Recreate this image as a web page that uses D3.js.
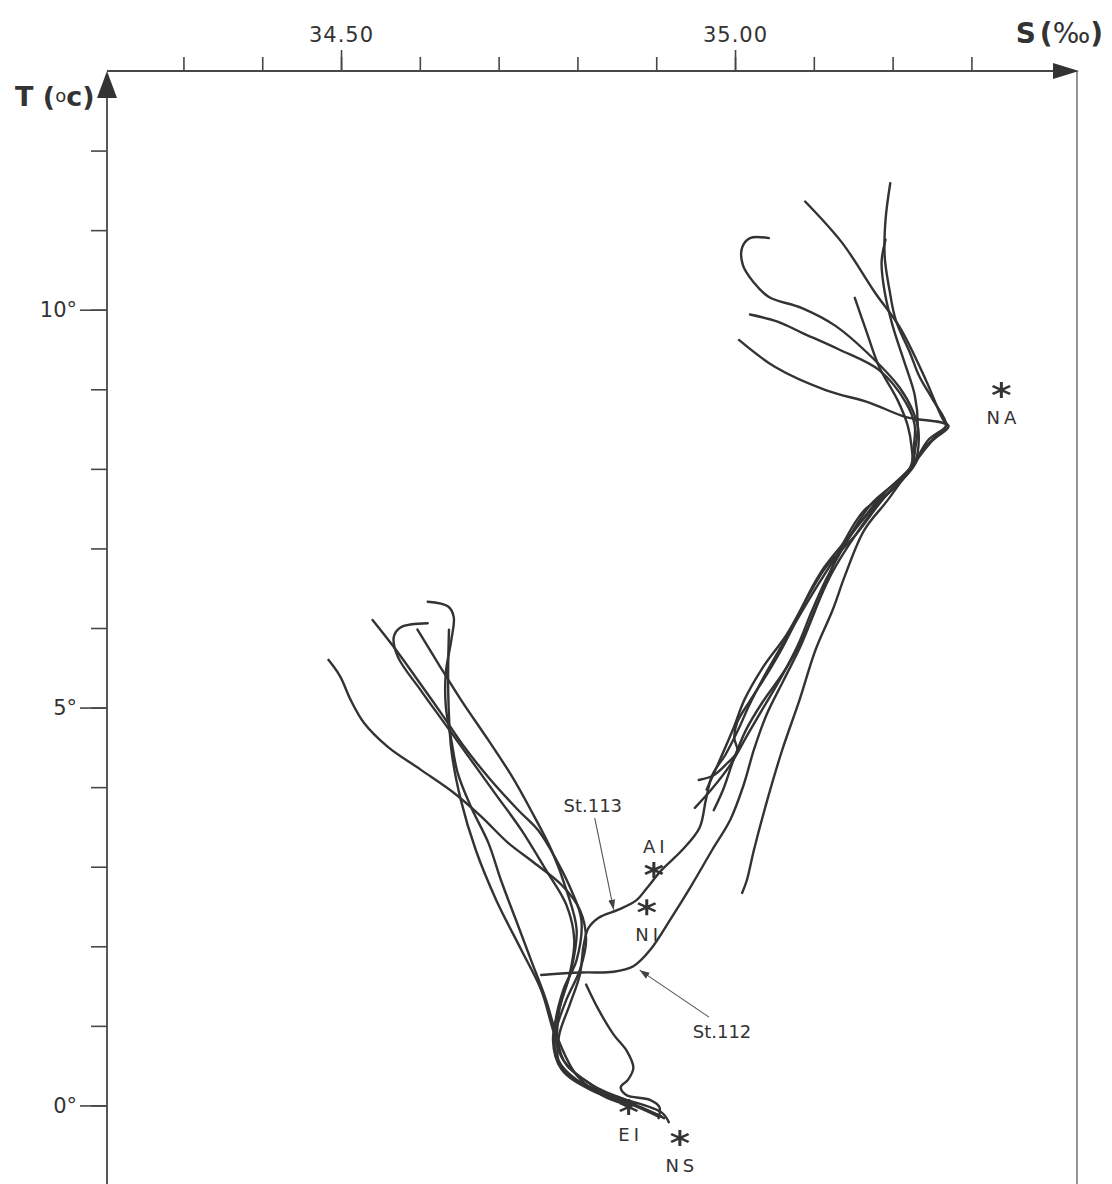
<!DOCTYPE html>
<html>
<head>
<meta charset="utf-8">
<script src="https://cdn.jsdelivr.net/npm/d3@7"></script>
<style>
  html, body { margin: 0; padding: 0; background: #ffffff; }
  svg { display: block; }
</style>
</head>
<body>
<svg id="chart" width="1112" height="1184"></svg>
<script>
// ---- Axis ticks -------------------------------------------------------
const salinityTicks = [34.3, 34.4, 34.5, 34.6, 34.7, 34.8, 34.9, 35.0, 35.1, 35.2, 35.3];
const salinityLabelled = [34.5, 35.0];
const salinityLabelText = ["34.50", "35.00"];
const temperatureTicks = [0, 1, 2, 3, 4, 5, 6, 7, 8, 9, 10, 11, 12];
const temperatureLabelled = [0, 5, 10];
const temperatureLabelText = ["0°", "5°", "10°"];

// ---- T-S profiles: [salinity ‰, temperature °C], surface first --------
const atlantic1 = [[35.043,10.90],[35.019,10.90],[35.009,10.78],[35.010,10.56],[35.024,10.34],[35.043,10.16],[35.085,10.02],[35.127,9.80],[35.175,9.39],[35.209,9.02],[35.226,8.72],[35.233,8.46],[35.227,8.05],[35.187,7.61],[35.153,7.17],[35.115,6.76],[35.090,6.35],[35.065,5.91],[35.035,5.50],[35.012,5.10],[34.998,4.74],[34.978,4.28],[34.964,3.97]];
const atlantic2 = [[35.089,11.36],[35.136,10.84],[35.178,10.21],[35.209,9.78],[35.242,9.12],[35.264,8.62],[35.271,8.53],[35.251,8.36],[35.226,8.05],[35.194,7.61],[35.164,7.23],[35.140,6.67],[35.124,6.23],[35.102,5.72],[35.082,5.10],[35.060,4.47],[35.041,3.84],[35.024,3.21],[35.015,2.83],[35.009,2.67]];
const atlantic3 = [[35.197,11.59],[35.191,11.13],[35.190,10.66],[35.196,10.25],[35.204,9.87],[35.222,9.46],[35.234,9.16],[35.251,8.87],[35.268,8.55],[35.257,8.43],[35.238,8.24],[35.226,8.02],[35.181,7.55],[35.149,7.11],[35.124,6.71],[35.104,6.29],[35.085,5.85],[35.062,5.45],[35.035,5.07],[35.014,4.72],[34.998,4.34],[34.985,3.97],[34.973,3.71]];
const atlantic4 = [[35.191,10.88],[35.186,10.60],[35.190,10.22],[35.200,9.80],[35.215,9.34],[35.228,8.93],[35.232,8.55],[35.229,8.27],[35.223,8.01],[35.175,7.51],[35.143,7.13],[35.113,6.76],[35.093,6.42],[35.078,6.10],[35.060,5.75],[35.040,5.41],[35.020,5.10],[35.003,4.82],[34.999,4.62],[35.003,4.45],[34.990,4.30],[34.973,4.15],[34.954,4.09]];
const atlantic5 = [[35.019,9.94],[35.054,9.85],[35.085,9.71],[35.132,9.50],[35.183,9.24],[35.217,8.83],[35.228,8.55],[35.227,8.30],[35.222,8.01],[35.172,7.55],[35.139,7.04],[35.115,6.60],[35.097,6.20],[35.080,5.79],[35.058,5.37],[35.036,5.00],[35.016,4.66],[34.994,4.28],[34.970,3.97],[34.949,3.74]];
const station113 = [[35.005,9.62],[35.051,9.28],[35.115,8.99],[35.171,8.83],[35.217,8.65],[35.268,8.55],[35.245,8.36],[35.224,8.03],[35.187,7.67],[35.157,7.30],[35.130,6.92],[35.105,6.54],[35.082,6.16],[35.060,5.79],[35.038,5.41],[35.018,5.03],[35.004,4.72],[34.988,4.41],[34.971,4.15],[34.963,3.84],[34.955,3.49],[34.933,3.21],[34.907,2.96],[34.888,2.73],[34.875,2.58],[34.852,2.46],[34.827,2.36],[34.814,2.23],[34.808,2.02],[34.803,1.64],[34.790,1.26],[34.777,0.89],[34.776,0.57],[34.799,0.32],[34.837,0.13],[34.882,-0.03],[34.910,-0.16]];
const station112 = [[35.152,10.15],[35.166,9.75],[35.183,9.28],[35.206,8.87],[35.219,8.55],[35.224,8.28],[35.224,8.03],[35.200,7.74],[35.164,7.48],[35.136,7.04],[35.118,6.63],[35.102,6.23],[35.084,5.79],[35.062,5.35],[35.040,4.91],[35.024,4.47],[35.011,4.03],[34.994,3.59],[34.971,3.21],[34.945,2.77],[34.920,2.37],[34.892,1.95],[34.871,1.75],[34.846,1.68],[34.805,1.67],[34.754,1.64]];
const polar1 = [[34.484,5.60],[34.499,5.39],[34.512,5.10],[34.529,4.81],[34.559,4.51],[34.601,4.22],[34.643,3.93],[34.678,3.63],[34.712,3.30],[34.745,3.05],[34.780,2.77],[34.803,2.46],[34.811,2.08],[34.803,1.70],[34.786,1.33],[34.773,0.95],[34.771,0.70],[34.780,0.47],[34.814,0.23],[34.856,0.09],[34.907,-0.09],[34.916,-0.21]];
const polar2 = [[34.540,6.10],[34.567,5.76],[34.597,5.35],[34.627,4.93],[34.656,4.51],[34.690,4.09],[34.725,3.71],[34.750,3.46],[34.773,3.09],[34.792,2.71],[34.805,2.33],[34.799,1.83],[34.782,1.45],[34.771,0.95],[34.775,0.57],[34.799,0.32],[34.843,0.13],[34.882,-0.03],[34.907,-0.14]];
const polar3 = [[34.610,6.06],[34.576,6.01],[34.567,5.89],[34.572,5.64],[34.601,5.22],[34.633,4.78],[34.665,4.34],[34.697,3.90],[34.729,3.46],[34.760,2.96],[34.786,2.52],[34.796,2.08],[34.790,1.64],[34.777,1.20],[34.775,0.82],[34.786,0.51],[34.818,0.26],[34.846,0.07]];
const polar4 = [[34.597,5.98],[34.623,5.56],[34.652,5.10],[34.687,4.59],[34.716,4.15],[34.741,3.71],[34.767,3.21],[34.786,2.71],[34.799,2.21],[34.792,1.70],[34.780,1.33],[34.769,0.82],[34.780,0.45],[34.818,0.19],[34.869,0.01],[34.903,-0.14]];
const polar5 = [[34.610,6.33],[34.636,6.27],[34.643,6.14],[34.640,5.85],[34.633,5.44],[34.633,5.01],[34.640,4.59],[34.648,4.18],[34.665,3.75],[34.687,3.30],[34.703,2.83],[34.722,2.33],[34.741,1.83],[34.760,1.33],[34.776,0.82],[34.799,0.38],[34.831,0.13],[34.862,0.01]];
const polar6 = [[34.637,5.98],[34.636,5.22],[34.640,4.47],[34.652,3.84],[34.671,3.21],[34.697,2.58],[34.729,1.95],[34.754,1.45],[34.769,0.95],[34.782,0.57],[34.818,0.26],[34.862,0.07]];
const polar7 = [[34.811,1.52],[34.827,1.20],[34.846,0.89],[34.863,0.68],[34.871,0.47],[34.864,0.32],[34.855,0.23],[34.862,0.13],[34.892,0.07],[34.904,-0.02],[34.903,-0.16]];

const profiles = [atlantic1, atlantic2, atlantic3, atlantic4, atlantic5, station113, station112,
                  polar1, polar2, polar3, polar4, polar5, polar6, polar7];

// ---- Water-mass type points ------------------------------------------
const waterMassNames = ["NA", "AI", "NI", "EI", "NS"];
const waterMassS = [35.338, 34.897, 34.888, 34.865, 34.930];
const waterMassT = [8.99, 2.96, 2.49, -0.02, -0.41];

// ---- Station call-outs: label, arrow tail and arrow tip ----------------
const stationNames = ["St.113", "St.112"];
const stationTail = [[34.822, 3.61], [34.967, 1.11]];
const stationTip = [[34.846, 2.46], [34.879, 1.70]];

// ---- Layout -----------------------------------------------------------
const svg = d3.select("#chart");
const ink = "#333333";
const axisInk = "#474747";
const textInk = "#333333";
const font = "'DejaVu Sans', 'Liberation Sans', sans-serif";

const x = d3.scaleLinear().domain([34.203, 35.434]).range([107, 1077]);
const y = d3.scaleLinear().domain([-1, 13]).range([1185, 71]);

// Salinity axis along the top: minor and labelled ticks point upward
const gx = svg.append("g").attr("transform", `translate(0,${y(13)})`);
gx.call(d3.axisTop(x).tickValues(salinityTicks).tickSize(14).tickFormat(""));
const gxl = svg.append("g").attr("transform", `translate(0,${y(13)})`);
gxl.call(d3.axisTop(x).tickValues(salinityLabelled).tickSize(21).tickPadding(8)
  .tickFormat((d, i) => salinityLabelText[i]));
[gx, gxl].forEach(g => {
  g.select(".domain").remove();
  g.selectAll(".tick line").attr("stroke", axisInk).attr("stroke-width", 1.6);
});
gxl.selectAll(".tick text")
  .attr("font-family", font).attr("font-size", 21).attr("letter-spacing", 1)
  .attr("fill", textInk);

// Temperature axis on the left: ticks point outward
const gy = svg.append("g").attr("transform", `translate(${x(34.203)},0)`);
gy.call(d3.axisLeft(y).tickValues(temperatureTicks).tickSize(16).tickFormat(""));
const gyl = svg.append("g").attr("transform", `translate(${x(34.203)},0)`);
gyl.call(d3.axisLeft(y).tickValues(temperatureLabelled).tickSize(27).tickPadding(3)
  .tickFormat(d => temperatureLabelText[temperatureLabelled.indexOf(d)]));
[gy, gyl].forEach(g => {
  g.select(".domain").remove();
  g.selectAll(".tick line").attr("stroke", axisInk).attr("stroke-width", 1.6);
});
gyl.selectAll(".tick text")
  .attr("font-family", font).attr("font-size", 21).attr("fill", textInk);

// Frame lines with arrowheads
const x0 = x(34.203), x1 = x(35.434), yTop = y(13), yBot = y(-1);
svg.append("line").attr("x1", x0).attr("y1", yTop).attr("x2", x1 - 20).attr("y2", yTop)
  .attr("stroke", axisInk).attr("stroke-width", 1.8);
svg.append("line").attr("x1", x0).attr("y1", yTop + 20).attr("x2", x0).attr("y2", yBot)
  .attr("stroke", axisInk).attr("stroke-width", 1.8);
svg.append("line").attr("x1", x1).attr("y1", yTop).attr("x2", x1).attr("y2", yBot)
  .attr("stroke", "#666").attr("stroke-width", 1.4);
svg.append("path")
  .attr("d", `M${x1 + 2},${yTop} L${x1 - 24},${yTop - 8} L${x1 - 24},${yTop + 8} Z`)
  .attr("fill", "#333");
svg.append("path")
  .attr("d", `M${x0},${yTop} L${x0 - 10},${yTop + 27} L${x0 + 10},${yTop + 27} Z`)
  .attr("fill", "#333");

// Axis titles
const sTitle = svg.append("text").attr("x", 1103).attr("y", 43).attr("text-anchor", "end")
  .attr("font-family", font).attr("font-size", 28).attr("fill", textInk);
sTitle.append("tspan").attr("font-weight", "bold").text("S");
sTitle.append("tspan").attr("font-weight", "bold").attr("dx", 4).text("(");
sTitle.append("tspan").text("‰");
sTitle.append("tspan").attr("font-weight", "bold").text(")");

const tTitle = svg.append("text").attr("x", 15).attr("y", 106)
  .attr("font-family", font).attr("font-size", 27).attr("fill", textInk).attr("font-weight", "bold");
tTitle.append("tspan").text("T (");
tTitle.append("tspan").attr("font-weight", "normal").attr("font-size", 18).attr("dy", -4).text("o");
tTitle.append("tspan").attr("dy", 4).text("c)");

// Profiles
const line = d3.line()
  .x(d => x(d[0])).y(d => y(d[1]))
  .curve(d3.curveCatmullRom.alpha(0.5));

svg.append("g").selectAll("path").data(profiles).join("path")
  .attr("d", line)
  .attr("fill", "none").attr("stroke", ink).attr("stroke-width", 2.4)
  .attr("stroke-linejoin", "round").attr("stroke-linecap", "round");

// Water-mass markers
const star = d3.symbol(d3.symbolAsterisk, 200);
const marks = svg.append("g");
waterMassNames.forEach((name, i) => {
  const px = x(waterMassS[i]), py = y(waterMassT[i]);
  marks.append("path").attr("d", star())
    .attr("transform", `translate(${px},${py}) scale(1.2,0.95)`)
    .attr("fill", "none").attr("stroke", ink).attr("stroke-width", 2.5);
  const above = name === "AI";
  marks.append("text").attr("x", px + 2).attr("y", above ? py - 17 : py + 34)
    .attr("text-anchor", "middle").attr("font-family", font).attr("font-size", 18)
    .attr("letter-spacing", 4).attr("fill", textInk).text(name);
});

// Station call-outs
svg.append("defs").append("marker").attr("id", "tip")
  .attr("viewBox", "0 0 10 10").attr("refX", 10).attr("refY", 5)
  .attr("markerWidth", 10).attr("markerHeight", 10).attr("markerUnits", "userSpaceOnUse")
  .attr("orient", "auto")
  .append("path").attr("d", "M0,1.5 L10,5 L0,8.5 Z").attr("fill", "#444");

stationNames.forEach((name, i) => {
  const [ts, tt] = stationTail[i], [hs, ht] = stationTip[i];
  svg.append("line")
    .attr("x1", x(ts)).attr("y1", y(tt)).attr("x2", x(hs)).attr("y2", y(ht))
    .attr("stroke", "#555").attr("stroke-width", 1.1).attr("marker-end", "url(#tip)");
  const first = i === 0;
  svg.append("text")
    .attr("x", first ? x(ts) - 2 : x(ts) + 13)
    .attr("y", first ? y(tt) - 6 : y(tt) + 21)
    .attr("text-anchor", "middle").attr("font-family", font).attr("font-size", 18)
    .attr("fill", textInk).text(name);
});
</script>
</body>
</html>
